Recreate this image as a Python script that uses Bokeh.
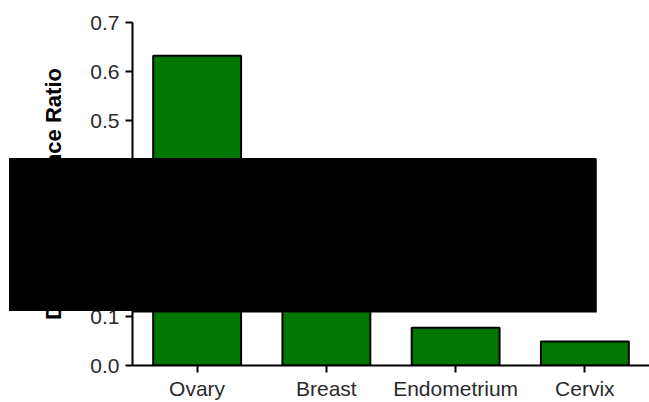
from bokeh.plotting import figure
from bokeh.models import (FixedTicker, NumeralTickFormatter, Label, Div,
                          ColumnDataSource, FactorRange)
from bokeh.embed import file_html
from bokeh.resources import INLINE

categories = ["Ovary", "Breast", "Endometrium", "Cervix"]
ratios = [0.632, 0.28, 0.077, 0.049]
y_ticks = [0.0, 0.1, 0.2, 0.3, 0.4, 0.5, 0.6, 0.7]
y_label = "Disease Incidence Ratio"

src = ColumnDataSource(dict(cat=categories, val=ratios))

p = figure(x_range=FactorRange(*categories, range_padding=0),
           y_range=(0, 0.7), width=649, height=402,
           output_backend="svg", toolbar_location=None,
           min_border_left=132, min_border_right=0,
           min_border_top=22, min_border_bottom=36)

p.vbar(x="cat", top="val", width=0.68, source=src,
       fill_color="#007800", line_color="black", line_width=2)

p.xgrid.visible = False
p.ygrid.visible = False
p.outline_line_color = None

for ax in (p.xaxis[0], p.yaxis[0]):
    ax.axis_line_color = "black"
    ax.axis_line_width = 2
    ax.major_tick_line_color = "black"
    ax.major_tick_line_width = 2
    ax.major_tick_in = 0
    ax.major_tick_out = 7
    ax.minor_tick_line_color = None
    ax.major_label_text_font = "Liberation Sans"
    ax.major_label_text_color = "#2a2a2a"

p.yaxis.ticker = FixedTicker(ticks=y_ticks)
p.yaxis.formatter = NumeralTickFormatter(format="0.0")
p.yaxis.major_label_text_font_size = "21px"
p.yaxis.major_label_standoff = 6
p.yaxis.axis_label = y_label
p.yaxis.axis_label_text_font = "Liberation Sans"
p.yaxis.axis_label_text_font_style = "bold"
p.yaxis.axis_label_text_font_size = "22px"
p.yaxis.axis_label_text_color = "black"
p.yaxis.axis_label_standoff = 21

p.xaxis.major_label_text_font_size = "21px"
p.xaxis.major_label_standoff = 4

# redaction block of the reference image (frame part)
mask = Label(x=9, y=158, x_units="canvas", y_units="canvas", text=" ",
             text_font_size="1px", anchor="top_left",
             padding=(0, 587, 153, 0),
             background_fill_color="black", background_fill_alpha=1.0,
             level="overlay")
p.add_layout(mask)

# redaction block over the whole area (including the axis panel)
cover = Div(text="", styles={"position": "absolute", "left": "9px", "top": "158px",
                             "width": "587px", "height": "153px",
                             "background-color": "black", "z-index": "100"})
p.elements.append(cover)

open("out.html", "w").write(file_html(p, INLINE))
